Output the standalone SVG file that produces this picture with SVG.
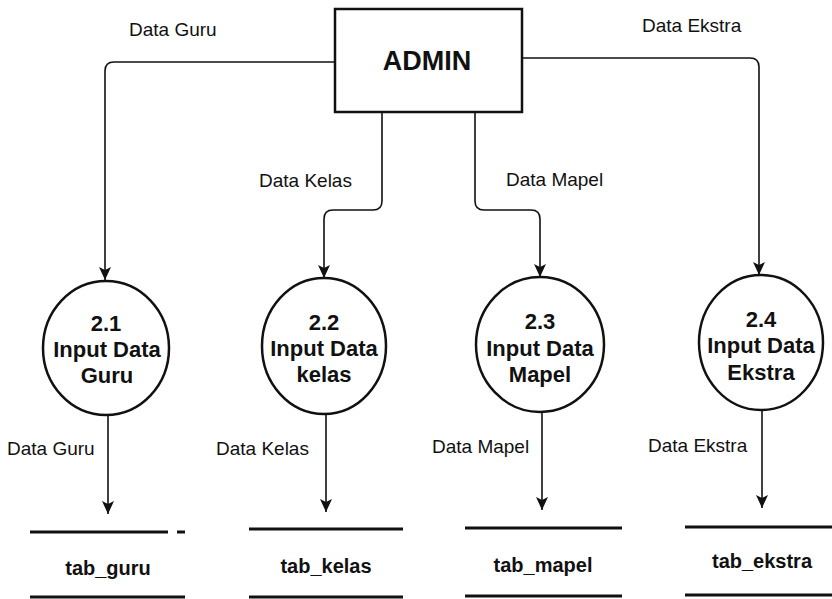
<svg xmlns="http://www.w3.org/2000/svg" width="832" height="599" viewBox="0 0 832 599">
<style>
  .lbl { font-family: "Liberation Sans", Arial, sans-serif; font-size: 19px; fill: #111; }
  .proc { font-family: "Liberation Sans", Arial, sans-serif; font-size: 22px; font-weight: bold; fill: #111; text-anchor: middle; }
  .store { font-family: "Liberation Sans", Arial, sans-serif; font-size: 20px; font-weight: bold; fill: #111; text-anchor: middle; }
  .ent { font-family: "Liberation Sans", Arial, sans-serif; font-size: 27px; font-weight: bold; fill: #111; text-anchor: middle; }
  .shape { fill: #fff; stroke: #111; stroke-width: 2.5; }
  .flow { fill: none; stroke: #111; stroke-width: 1.6; marker-end: url(#arr); }
  .sline { stroke: #111; stroke-width: 3; }
</style>
<defs>
  <marker id="arr" markerUnits="userSpaceOnUse" markerWidth="14" markerHeight="12" refX="13" refY="6" orient="auto">
    <path d="M0,0 L13,6 L0,12 L3,6 z" fill="#111"/>
  </marker>
</defs>
<rect width="832" height="599" fill="#fff"/>

<g id="connectors">
  <path class="flow" d="M335,62 H114 Q105,62 105,71 V280"/>
  <path class="flow" d="M382,112 V201 Q382,210 373,210 H333 Q324,210 324,219 V278"/>
  <path class="flow" d="M475,112 V201 Q475,210 484,210 H531 Q540,210 540,219 V277"/>
  <path class="flow" d="M522,58 H750 Q759,58 759,67 V275"/>
  <path class="flow" d="M108,415 V514"/>
  <path class="flow" d="M326,414 V512"/>
  <path class="flow" d="M542,412 V510"/>
  <path class="flow" d="M762,410 V508"/>
  <text class="lbl" x="129" y="36">Data Guru</text>
  <text class="lbl" x="259" y="187">Data Kelas</text>
  <text class="lbl" x="506" y="186">Data Mapel</text>
  <text class="lbl" x="642" y="32">Data Ekstra</text>
  <text class="lbl" x="7" y="455">Data Guru</text>
  <text class="lbl" x="216" y="455">Data Kelas</text>
  <text class="lbl" x="432" y="453">Data Mapel</text>
  <text class="lbl" x="648" y="452">Data Ekstra</text>
</g>

<g id="admin">
  <rect class="shape" x="335" y="9" width="187" height="103"/>
  <text class="ent" x="427" y="70">ADMIN</text>
</g>

<g id="p21">
  <ellipse class="shape" cx="106" cy="348" rx="63" ry="67"/>
  <text class="proc" x="106" y="331">2.1</text>
  <text class="proc" x="107" y="357">Input Data</text>
  <text class="proc" x="107" y="383">Guru</text>
</g>
<g id="p22">
  <ellipse class="shape" cx="324" cy="346" rx="62" ry="68"/>
  <text class="proc" x="324" y="330">2.2</text>
  <text class="proc" x="324" y="356">Input Data</text>
  <text class="proc" x="324" y="382">kelas</text>
</g>
<g id="p23">
  <ellipse class="shape" cx="540" cy="344.5" rx="64" ry="67.5"/>
  <text class="proc" x="540" y="329">2.3</text>
  <text class="proc" x="540" y="356">Input Data</text>
  <text class="proc" x="540" y="382">Mapel</text>
</g>
<g id="p24">
  <ellipse class="shape" cx="761" cy="342.5" rx="62" ry="67.5"/>
  <text class="proc" x="761" y="327">2.4</text>
  <text class="proc" x="761" y="353">Input Data</text>
  <text class="proc" x="761" y="380">Ekstra</text>
</g>

<g id="tab_guru">
  <line class="sline" x1="30" y1="532" x2="168" y2="532"/>
  <line class="sline" x1="177" y1="532" x2="185" y2="532"/>
  <text class="store" x="108" y="575">tab_guru</text>
  <line class="sline" x1="30" y1="597" x2="185" y2="597"/>
</g>
<g id="tab_kelas">
  <line class="sline" x1="249" y1="529" x2="403" y2="529"/>
  <text class="store" x="326" y="573">tab_kelas</text>
  <line class="sline" x1="249" y1="597" x2="403" y2="597"/>
</g>
<g id="tab_mapel">
  <line class="sline" x1="465" y1="528" x2="622" y2="528"/>
  <text class="store" x="543" y="572">tab_mapel</text>
  <line class="sline" x1="465" y1="596" x2="622" y2="596"/>
</g>
<g id="tab_ekstra">
  <line class="sline" x1="685" y1="527" x2="832" y2="527"/>
  <text class="store" x="762" y="568">tab_ekstra</text>
  <line class="sline" x1="685" y1="595" x2="832" y2="595"/>
</g>
</svg>
